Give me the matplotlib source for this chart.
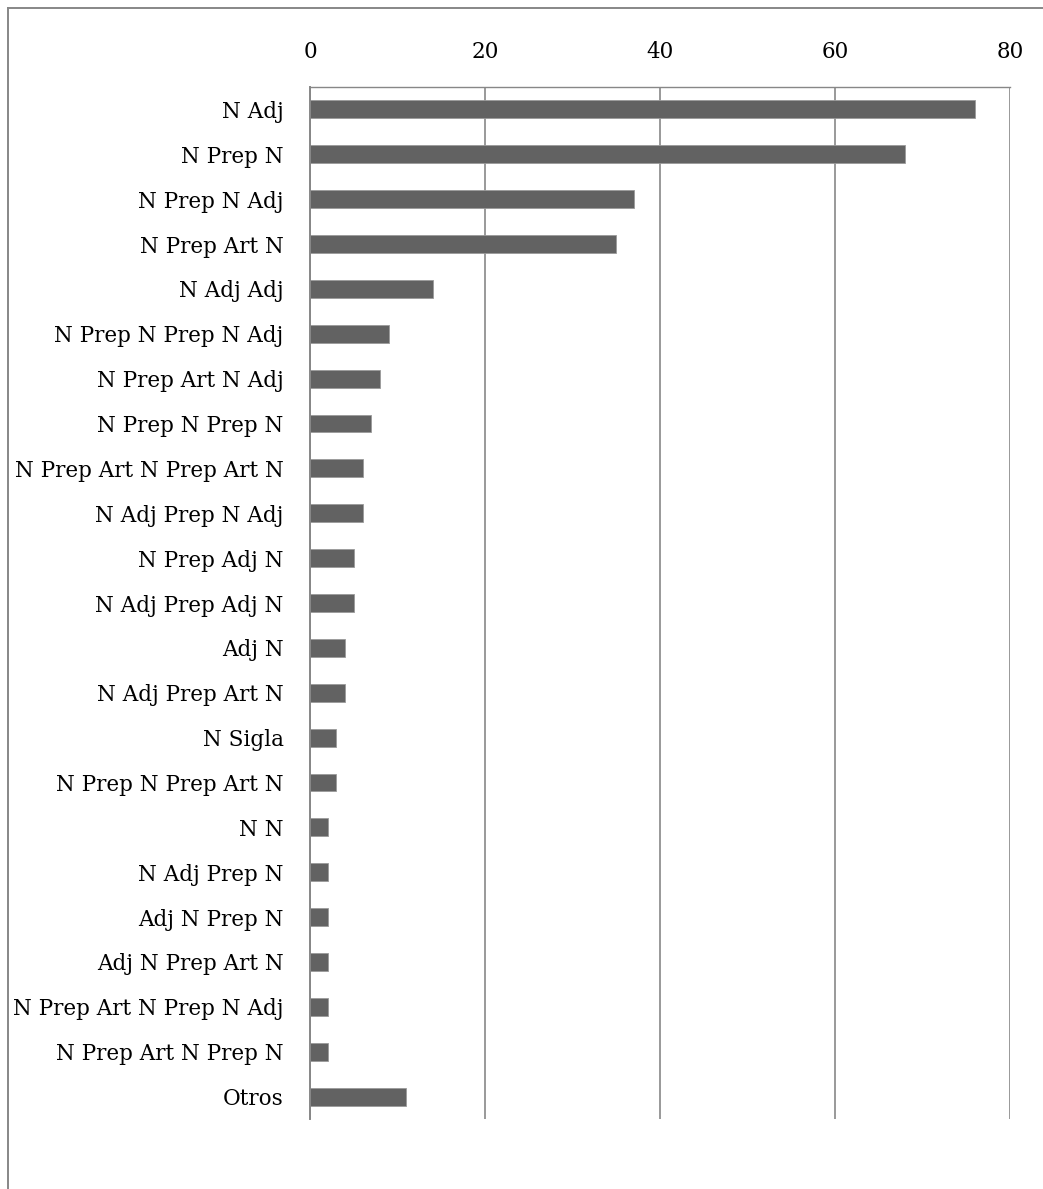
import matplotlib.pyplot as plt
from matplotlib.lines import Line2D

categorias = [
    "N Adj", "N Prep N", "N Prep N Adj", "N Prep Art N", "N Adj Adj",
    "N Prep N Prep N Adj", "N Prep Art N Adj", "N Prep N Prep N",
    "N Prep Art N Prep Art N", "N Adj Prep N Adj", "N Prep Adj N",
    "N Adj Prep Adj N", "Adj N", "N Adj Prep Art N", "N Sigla",
    "N Prep N Prep Art N", "N N", "N Adj Prep N", "Adj N Prep N",
    "Adj N Prep Art N", "N Prep Art N Prep N Adj", "N Prep Art N Prep N", "Otros",
]
valores = [76, 68, 37, 35, 14, 9, 8, 7, 6, 6, 5, 5, 4, 4, 3, 3, 2, 2, 2, 2, 2, 2, 11]
ticks_x = [0, 20, 40, 60, 80]

W, H = 1043, 1189
fig = plt.figure(figsize=(W / 100, H / 100), dpi=100)
ax = fig.add_axes([310 / W, 1 - 1119 / H, 700 / W, (1119 - 87) / H])

gris = "#878787"
pos = list(range(len(categorias)))
ax.barh(pos, valores, height=0.4, color="#626262", edgecolor="#9a9a9a", linewidth=0.6, zorder=3)

ax.set_xlim(0, 80)
ax.set_ylim(len(categorias) - 0.5, -0.5)
ax.set_xticks(ticks_x)
ax.set_yticks(pos)
ax.set_yticklabels(categorias)
ax.xaxis.tick_top()
ax.tick_params(axis="x", length=0, pad=17, labelsize=15.5)
ax.tick_params(axis="y", length=0, pad=19, labelsize=15.5)
for lab in ax.get_xticklabels() + ax.get_yticklabels():
    lab.set_fontfamily("DejaVu Serif")
    lab.set_color("black")

ax.grid(axis="x", color=gris, linewidth=1.2, zorder=0)
for s in ["bottom", "right"]:
    ax.spines[s].set_visible(False)
ax.spines["left"].set_color(gris)
ax.spines["left"].set_linewidth(1.4)
ax.spines["top"].set_color(gris)
ax.spines["top"].set_linewidth(1.0)
ax.spines["left"].set_zorder(4)

# marco del gráfico
fig.add_artist(Line2D([8 / W, 8 / W], [0, 1 - 8 / H], color=gris, linewidth=1.4))
fig.add_artist(Line2D([8 / W, 1], [1 - 8 / H, 1 - 8 / H], color=gris, linewidth=1.4))

fig.savefig("out.png", dpi=100)
